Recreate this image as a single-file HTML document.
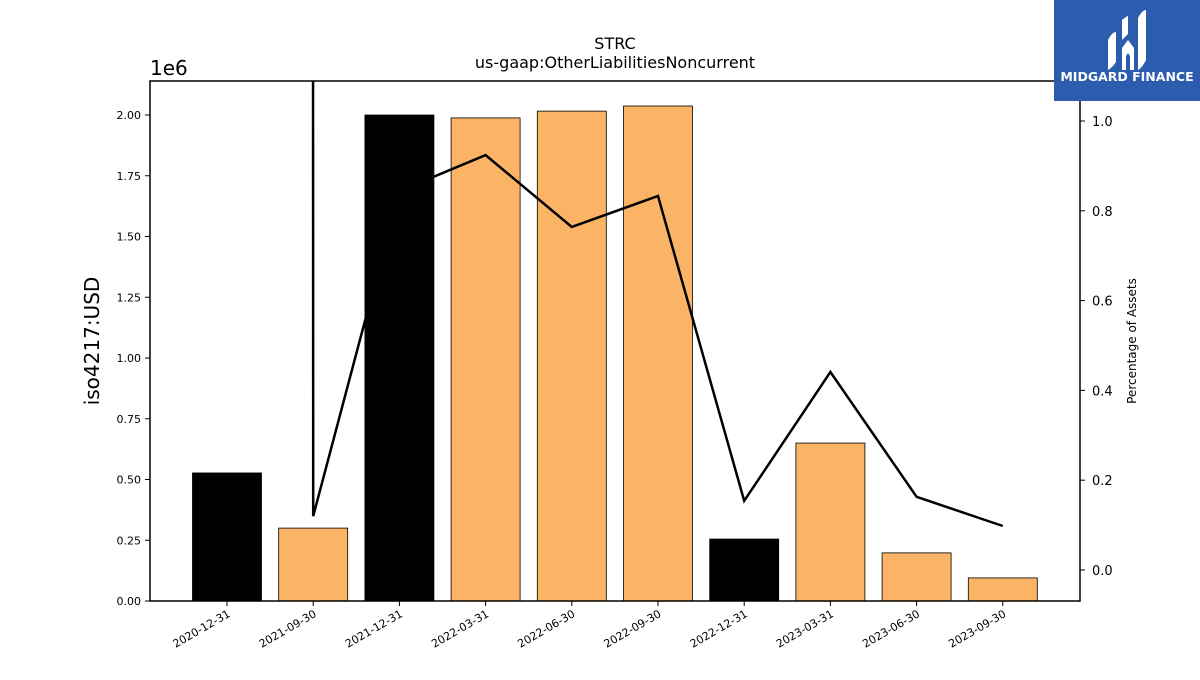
<!DOCTYPE html>
<html><head><meta charset="utf-8"><style>
body{margin:0;background:#fff;}
svg{font-family:"DejaVu Sans","Liberation Sans",sans-serif;}
</style></head><body>
<svg width="1200" height="675" viewBox="0 0 1200 675" xmlns="http://www.w3.org/2000/svg">
<defs><clipPath id="pc"><rect x="150" y="81" width="930" height="520"/></clipPath></defs>
<text x="615" y="49" font-size="16" text-anchor="middle">STRC</text>
<text x="615" y="68" font-size="16" text-anchor="middle">us-gaap:OtherLiabilitiesNoncurrent</text>
<g id="bars" clip-path="url(#pc)"></g>
<g id="line" clip-path="url(#pc)"></g>
<rect x="150" y="81" width="930" height="520" fill="none" stroke="#000" stroke-width="1.5"/>
<g id="axes"></g>
<text x="150" y="75" font-size="20">1e6</text>
<text transform="translate(99,341) rotate(-90)" font-size="20" text-anchor="middle">iso4217:USD</text>
<text transform="translate(1136,341) rotate(-90)" font-size="12" text-anchor="middle">Percentage of Assets</text>
<g>
<rect x="1054" y="0" width="146" height="101" fill="#2b5cad"/>
<path d="M1108 40 q4-8 8-8 v30 q-4 6-8 8z M1122 20 q5-4 6-4 v18 l-6 6z M1122 48 l6-8 l6 8 v22 h-4 v-14 l-2-3 l-2 3 v14 h-4z M1138 18 q4-8 8-8 v50 q-4 8-8 10z" fill="#fff"/>
<text x="1127" y="81" font-size="12.5" font-weight="bold" fill="#fff" text-anchor="middle">MIDGARD FINANCE</text>
</g>
</svg>
<script>
const categories=["2020-12-31","2021-09-30","2021-12-31","2022-03-31","2022-06-30","2022-09-30","2022-12-31","2023-03-31","2023-06-30","2023-09-30"];
const barValues=[0.527,0.30,2.0,1.988,2.016,2.037,0.255,0.65,0.198,0.095];
const pctValues=[500,0.12,0.844,0.924,0.764,0.833,0.154,0.441,0.163,0.098];
const yTicks=[0,0.25,0.5,0.75,1.0,1.25,1.5,1.75,2.0];
const y2Ticks=[0,0.2,0.4,0.6,0.8,1.0];
const NS="http://www.w3.org/2000/svg";
const xS=i=>227+i*86.2;
const yS=v=>601-v*243;
const y2S=v=>570-v*449;
function mk(t,a,p){const e=document.createElementNS(NS,t);for(const k in a)e.setAttribute(k,a[k]);p.appendChild(e);return e;}
const bars=document.getElementById('bars'),line=document.getElementById('line'),axes=document.getElementById('axes');
categories.forEach((c,i)=>{
 const v=barValues[i];
 const r=mk('rect',{x:xS(i)-34.5,y:yS(v),width:69,height:yS(0)-yS(v),fill:c.endsWith('12-31')?'#000':'#fbb466',stroke:'#000','stroke-width':0.8},bars);
 
 
 mk('line',{x1:xS(i),x2:xS(i),y1:601,y2:606,stroke:'#000'},axes);
 const t=mk('text',{transform:`translate(${xS(i)+4},${616}) rotate(-30)`,'font-size':11,'text-anchor':'end'},axes);
 t.textContent=c;
 
 
});
const pl=mk('polyline',{points:pctValues.map((v,i)=>xS(i)+','+y2S(v)).join(' '),fill:'none',stroke:'#000','stroke-width':2.5},line);


yTicks.forEach(v=>{
 mk('line',{x1:145,x2:150,y1:yS(v),y2:yS(v),stroke:'#000'},axes);
 const t=mk('text',{x:141,y:yS(v)+4,'font-size':11,'text-anchor':'end'},axes);
 t.textContent=v.toFixed(2);
 
 
});
y2Ticks.forEach(v=>{
 mk('line',{x1:1080,x2:1085,y1:y2S(v),y2:y2S(v),stroke:'#000'},axes);
 const t=mk('text',{x:1092,y:y2S(v)+5,'font-size':13},axes);
 t.textContent=v.toFixed(1);
 
 
});
</script>
</body></html>
